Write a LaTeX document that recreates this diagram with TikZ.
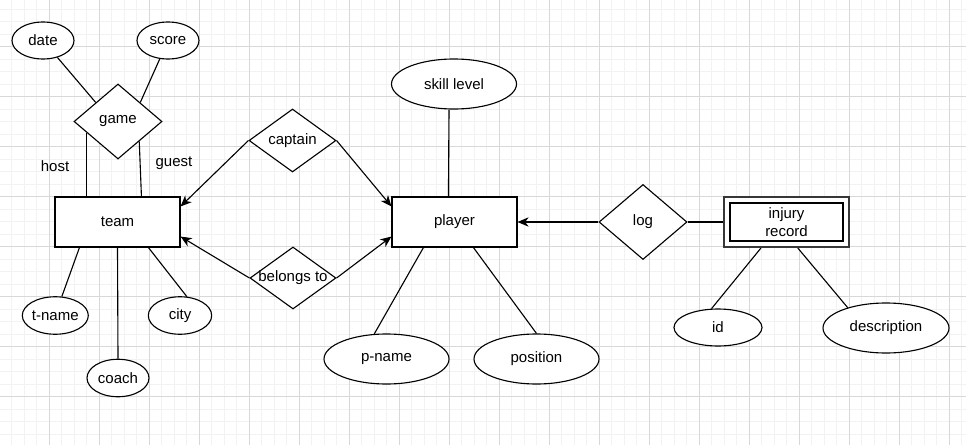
\documentclass[tikz,border=0pt]{standalone}
\usepackage{fontspec}
\setmainfont{Liberation Sans}
\usetikzlibrary{shapes.geometric,arrows.meta,calc}
\definecolor{gridminor}{RGB}{242,242,242}
\definecolor{gridmajor}{RGB}{216,216,216}
\definecolor{dgray}{RGB}{55,55,55}
\begin{document}
\begin{tikzpicture}[x=0.03cm,y=-0.03cm,
  every node/.style={font=\fontsize{12.8pt}{15.3pt}\selectfont},
  shapeline/.style={draw=black,line width=0.95pt,fill=white},
  entity/.style={shapeline, rectangle, minimum width=3.75cm, minimum height=1.5cm, inner sep=0pt},
  attr/.style={shapeline, ellipse, inner sep=0pt},
  rel/.style={shapeline, diamond, inner sep=0pt},
  conn/.style={line width=0.95pt},
  arr/.style={conn, -{Stealth[length=0.33cm,width=0.28cm,inset=0.1cm]}},
]
\useasboundingbox (0,0) rectangle (966,445);
\fill[white] (0,0) rectangle (966,445);
\begin{scope}
\clip (0,0) rectangle (966,445);
\foreach \i in {1,...,78} \draw[gridminor, line width=0.85pt] ({-0.7+12.5*\i},0) -- ({-0.7+12.5*\i},445);
\foreach \i in {1,...,36} \draw[gridminor, line width=0.85pt] (0,{-3.5+12.5*\i}) -- (966,{-3.5+12.5*\i});
\foreach \i in {0,...,19} \draw[gridmajor, line width=0.85pt] ({49.3+50*\i},0) -- ({49.3+50*\i},445);
\foreach \i in {0,...,8} \draw[gridmajor, line width=0.85pt] (0,{46.5+50*\i}) -- (966,{46.5+50*\i});
\end{scope}

% nodes
\node[attr, minimum width=1.86cm, minimum height=1.11cm] (date) at (43,40.5) {date};
\node[attr, minimum width=1.86cm, minimum height=1.11cm] (score) at (168,40.5) {score};
\node[rel, minimum width=2.64cm, minimum height=2.25cm, label=center:game] (game) at (118,121.5) {};
\node (host) at (55,166) {host};
\node (guest) at (174,163) {guest};
\node[entity] (team) at (117.5,222) {team};
\node[attr, minimum width=1.89cm, minimum height=1.125cm] (tname) at (55.3,315.5) {t-name};
\node[attr, minimum width=1.9cm, minimum height=1.125cm] (city) at (180,315.5) {city};
\node[attr, minimum width=1.86cm, minimum height=1.125cm] (coach) at (118,378) {coach};
\node[rel, minimum width=2.61cm, minimum height=1.89cm, label=center:captain] (captain) at (292.5,140.5) {};
\node[rel, minimum width=2.58cm, minimum height=1.86cm, label=center:belongs to] (belongs) at (293,278) {};
\node[entity] (player) at (454.5,222) {player};
\node[attr, minimum width=3.75cm, minimum height=1.5cm] (skill) at (454,84) {skill level};
\node[attr, minimum width=3.75cm, minimum height=1.5cm] (pname) at (386.5,359) {p-name};
\node[attr, minimum width=3.75cm, minimum height=1.5cm] (position) at (536.5,359) {position};
\node[rel, minimum width=2.64cm, minimum height=2.25cm, label=center:log] (log) at (643,222) {};
\node[rectangle, draw=dgray, line width=1.9pt, fill=white, minimum width=3.75cm, minimum height=1.5cm, inner sep=0pt] (injury) at (786.5,222) {};
\node[rectangle, draw=black, line width=0.9pt, minimum width=3.39cm, minimum height=1.14cm, align=center, inner sep=0pt] (injuryin) at (injury.center) {injury\\record};
\node[attr, minimum width=2.64cm, minimum height=1.11cm] (id) at (718,327.5) {id};
\node[attr, minimum width=3.78cm, minimum height=1.5cm] (desc) at (886,328) {description};

% connectors
\draw[conn] (date) -- (game.north west);
\draw[conn] (score) -- (game.north east);
\path (game.west) -- (game.south) coordinate[pos=0.295] (hostend);
\path (game.south) -- (game.east) coordinate[pos=0.477] (guestend);
\draw[conn] (hostend) -- (hostend |- team.north);
\draw[conn] (guestend) -- ($(team.north west)+(87,0)$);
\draw[arr] (captain.west) -- ($(team.north east)+(0,10)$);
\draw[arr] (captain.east) -- ($(player.north west)+(0,10)$);
\draw[arr] (belongs.west) -- ($(team.south east)+(0,-11)$);
\draw[arr] (belongs.east) -- ($(player.south west)+(0,-11)$);
\draw[conn] ($(team.south west)+(25,0)$) -- (tname.71);
\draw[conn] (team.south) -- (coach.north);
\draw[conn] ($(team.south west)+(94,0)$) -- (city.70);
\draw[conn] ($(player.north west)+(57,0)$) -- ($(skill.south)+(-5,0)$);
\draw[conn] ($(player.south west)+(32,0)$) -- (pname.116);
\draw[conn] ($(player.south west)+(82,0)$) -- (position.north);
\draw[arr] (log.west) -- (player.east);
\draw[conn] (log.east) -- (injury.west);
\draw[conn] ($(injury.south west)+(38,0)$) -- (id.109);
\draw[conn] ($(injury.south west)+(75,0)$) -- (desc.152);
\end{tikzpicture}
\end{document}
